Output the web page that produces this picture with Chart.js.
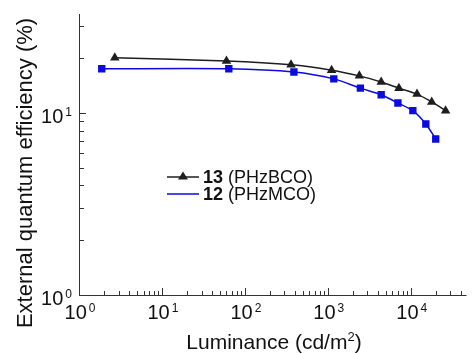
<!DOCTYPE html>
<html>
<head>
<meta charset="utf-8">
<script src="https://cdn.jsdelivr.net/npm/chart.js@4/dist/chart.umd.min.js"></script>
<style>
  html, body { margin: 0; padding: 0; background: #fff; }
  #wrap { width: 472px; height: 354px; }
</style>
</head>
<body>
<div id="wrap"><canvas id="eqeChart" width="472" height="354"></canvas></div>
<script>
// luminance (cd/m2) and EQE (%)
const lumBCO = [2.7, 60, 360, 1110, 2400, 4400, 7200, 11900, 17900, 26300];
const eqeBCO = [20.1, 19.3, 18.4, 17.2, 16.0, 14.8, 13.7, 12.7, 11.5, 10.3];
const lumMCO = [1.88, 64, 390, 1180, 2470, 4400, 7000, 10600, 15200, 20000];
const eqeMCO = [17.5, 17.5, 16.8, 15.4, 13.7, 12.6, 11.35, 10.3, 8.7, 7.2];

const xMajor = [1, 10, 100, 1000, 10000];
const xExp = ['0', '1', '2', '3', '4'];
const yMajor = [1, 10];
const yExp = ['0', '1'];

const legendNums = ['13', '12'];
const legendNames = [' (PHzBCO)', ' (PHzMCO)'];

const blue = 'rgb(10,10,225)';
const dark = '#1e1e1e';
const axisCol = '#333';
const FONT = '"Liberation Sans", Arial, sans-serif';

function minorTicks(min, max) {
  const out = [];
  for (let d = 1; d <= max; d *= 10) {
    for (let m = 1; m < 10; m++) {
      const v = m * d;
      if (v >= min && v <= max) out.push(v);
    }
  }
  return out;
}

function toPts(xs, ys) {
  return xs.map((x, i) => ({ x: x, y: ys[i] }));
}

// draws "10" with a raised exponent
function drawPow(ctx, exp, cx, baseY, size, align) {
  const sup = Math.round(size * 0.62);
  ctx.font = size + 'px ' + FONT;
  const wBase = ctx.measureText('10').width;
  ctx.font = sup + 'px ' + FONT;
  const wExp = ctx.measureText(exp).width;
  let left = align === 'right' ? cx - wBase - wExp - 2 : cx - (wBase + wExp + 2) / 2;
  ctx.textAlign = 'left';
  ctx.textBaseline = 'alphabetic';
  ctx.font = size + 'px ' + FONT;
  ctx.fillText('10', left, baseY);
  ctx.font = sup + 'px ' + FONT;
  ctx.fillText(exp, left + wBase + 2, baseY - 7);
}

const axesPlugin = {
  id: 'axesPlugin',
  afterDraw(chart) {
    const ctx = chart.ctx;
    const xs = chart.scales.x, ys = chart.scales.y;
    const a = chart.chartArea;
    ctx.save();
    ctx.strokeStyle = axisCol;
    ctx.lineWidth = 1;

    // axis lines
    ctx.beginPath();
    ctx.moveTo(a.left + 0.5, a.top);
    ctx.lineTo(a.left + 0.5, a.bottom + 0.5);
    ctx.lineTo(a.right, a.bottom + 0.5);
    ctx.stroke();

    // inward ticks on x
    ctx.beginPath();
    minorTicks(xs.min, xs.max).forEach(v => {
      const px = Math.round(xs.getPixelForValue(v)) + 0.5;
      const len = xMajor.includes(v) ? 7 : 4;
      ctx.moveTo(px, a.bottom);
      ctx.lineTo(px, a.bottom - len);
    });
    // inward ticks on y
    minorTicks(ys.min, ys.max).forEach(v => {
      const py = Math.round(ys.getPixelForValue(v)) + 0.5;
      const len = yMajor.includes(v) ? 7 : 5;
      ctx.moveTo(a.left, py);
      ctx.lineTo(a.left + len, py);
    });
    ctx.stroke();

    ctx.fillStyle = '#111';
    // x tick labels
    xMajor.forEach((v, i) => {
      drawPow(ctx, xExp[i], xs.getPixelForValue(v) + 1, 319, 20, 'center');
    });
    // y tick labels
    yMajor.forEach((v, i) => {
      drawPow(ctx, yExp[i], 72, ys.getPixelForValue(v) + 10, 20, 'right');
    });

    // x title
    ctx.font = '21px ' + FONT;
    const t1 = 'Luminance (cd/m', t2 = '2', t3 = ')';
    const w1 = ctx.measureText(t1).width, w3 = ctx.measureText(t3).width;
    ctx.font = '13px ' + FONT;
    const w2 = ctx.measureText(t2).width;
    let lx = 274 - (w1 + w2 + w3) / 2;
    ctx.textAlign = 'left';
    ctx.font = '21px ' + FONT;
    ctx.fillText(t1, lx, 349);
    ctx.font = '13px ' + FONT;
    ctx.fillText(t2, lx + w1, 341);
    ctx.font = '21px ' + FONT;
    ctx.fillText(t3, lx + w1 + w2, 349);

    // y title
    ctx.save();
    ctx.translate(32, 173);
    ctx.rotate(-Math.PI / 2);
    ctx.textAlign = 'center';
    ctx.font = '22px ' + FONT;
    ctx.fillText('External quantum efficiency (%)', 0, 0);
    ctx.restore();

    // legend
    const rows = [177, 194];
    const cols = [dark, blue];
    rows.forEach((ly, i) => {
      ctx.strokeStyle = cols[i];
      ctx.lineWidth = 1.5;
      ctx.beginPath();
      ctx.moveTo(167, ly);
      ctx.lineTo(199, ly);
      ctx.stroke();
      if (i === 0) {
        ctx.fillStyle = dark;
        ctx.beginPath();
        ctx.moveTo(183, ly - 5.5);
        ctx.lineTo(188, ly + 2.5);
        ctx.lineTo(178, ly + 2.5);
        ctx.closePath();
        ctx.fill();
      }
      ctx.fillStyle = '#111';
      ctx.textBaseline = 'middle';
      ctx.font = 'bold 18px ' + FONT;
      ctx.fillText(legendNums[i], 203, ly + 1);
      const wn = ctx.measureText(legendNums[i]).width;
      ctx.font = '18px ' + FONT;
      ctx.fillText(legendNames[i], 203 + wn, ly + 1);
    });
    ctx.restore();
  }
};

new Chart(document.getElementById('eqeChart').getContext('2d'), {
  type: 'line',
  data: {
    datasets: [
      {
        label: '13 (PHzBCO)',
        data: toPts(lumBCO, eqeBCO),
        borderColor: dark,
        backgroundColor: dark,
        borderWidth: 1.5,
        pointStyle: 'triangle',
        pointRadius: 5.5,
        pointBorderWidth: 0,
        tension: 0.25
      },
      {
        label: '12 (PHzMCO)',
        data: toPts(lumMCO, eqeMCO),
        borderColor: blue,
        backgroundColor: blue,
        borderWidth: 1.5,
        pointStyle: 'rect',
        pointRadius: 5.2,
        pointBorderWidth: 0,
        tension: 0.25
      }
    ]
  },
  options: {
    responsive: false,
    animation: false,
    layout: { padding: { left: 79, right: 2, top: 14, bottom: 59 } },
    plugins: { legend: { display: false }, tooltip: { enabled: false } },
    scales: {
      x: { type: 'logarithmic', min: 1, max: 47000, display: false },
      y: { type: 'logarithmic', min: 1, max: 35, display: false }
    }
  },
  plugins: [axesPlugin]
});
</script>
</body>
</html>
